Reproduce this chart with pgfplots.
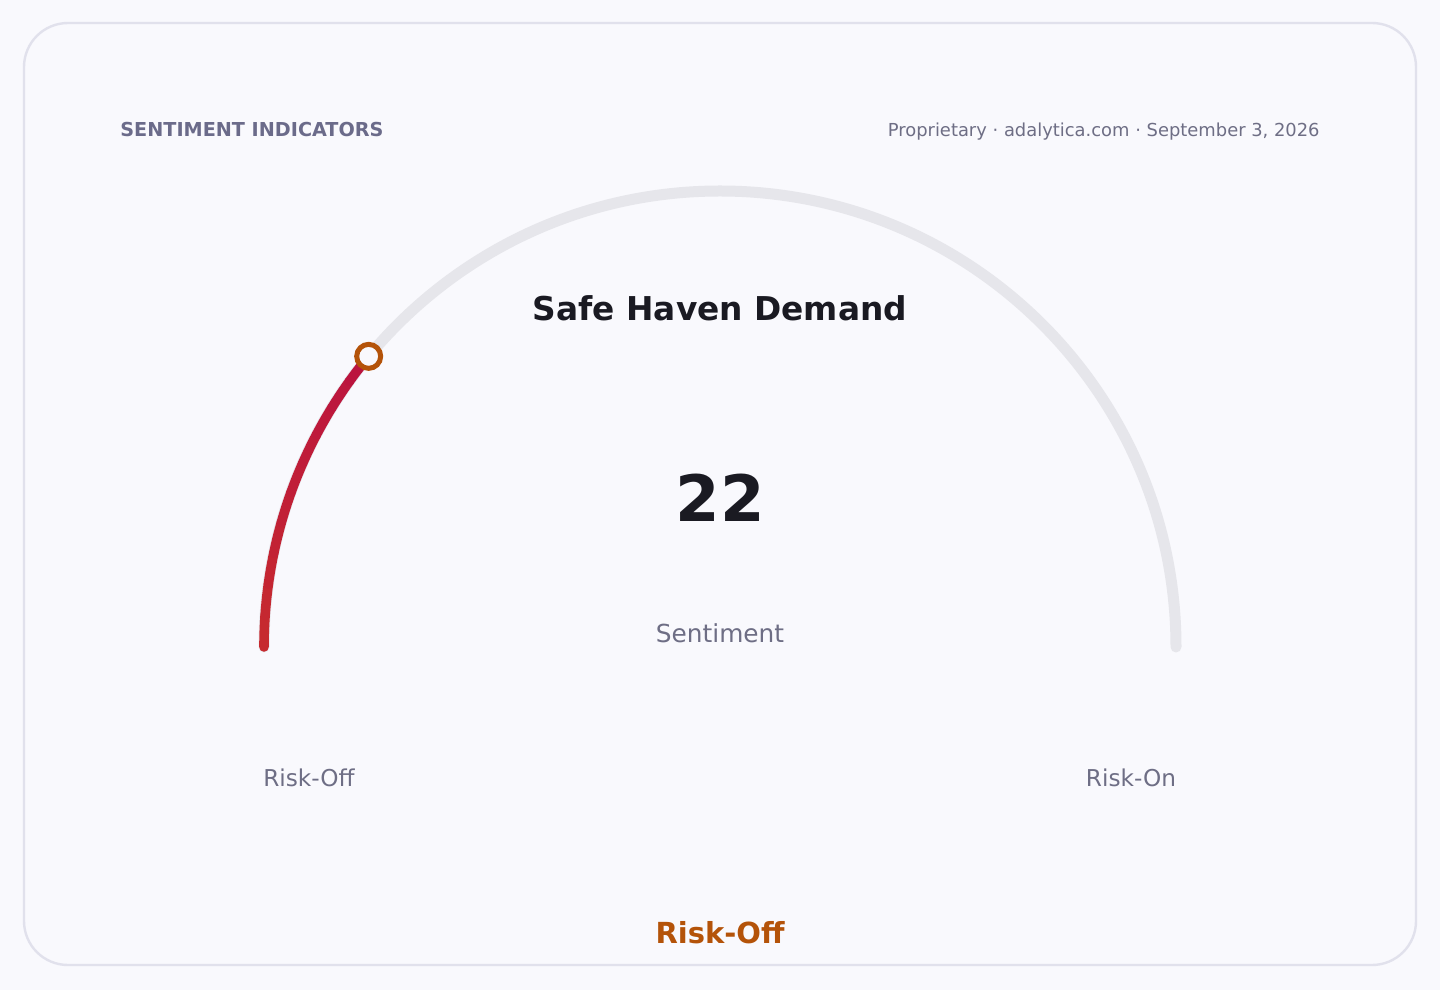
\documentclass[border=0pt]{standalone}
\usepackage{fontspec}
\setmainfont{DejaVu Sans}
\usepackage{xcolor}
\usepackage{pgfplots}
\usepackage{pgfplotstable}
\pgfplotsset{compat=1.18}
\usetikzlibrary{calc}

\definecolor{bgcol}{HTML}{F9F9FD}
\definecolor{cardedge}{HTML}{E1E1EC}
\definecolor{trackcol}{HTML}{E6E6EB}
\definecolor{lowcol}{HTML}{BA1240}
\definecolor{highcol}{HTML}{C62A2F}
\definecolor{ringcol}{HTML}{B45309}
\definecolor{headcol}{HTML}{6B6B8A}
\definecolor{subcol}{HTML}{6E6E85}
\definecolor{inkcol}{HTML}{1A1A22}

% gauge reading (0..100) and gauge radius in px
\pgfplotstableread{
value radius
22 456
}\gaugedata
\pgfplotstablegetelem{0}{value}\of\gaugedata
\pgfmathsetmacro\gaugeang{180-1.8*\pgfplotsretval}

\pgfplotsset{pixelaxis/.style={
    scale only axis,
    width=720pt, height=495pt,
    xmin=0, xmax=1440, ymin=0, ymax=990,
    y dir=reverse,
    hide axis, clip=false,
}}

\begin{document}
\begin{tikzpicture}[every node/.style={inner sep=0pt}]
\begin{axis}[pixelaxis]
  \fill[bgcol] (axis cs:0,0) rectangle (axis cs:1440,990);
  \draw[cardedge, line width=1.2pt, rounded corners=22pt]
    (axis cs:24,23) rectangle (axis cs:1416,965);
  \coordinate (C) at (axis cs:720,647);

  \node[anchor=base west, headcol, font=\fontsize{9.6}{11}\selectfont\bfseries]
    at (axis cs:120,137) {SENTIMENT INDICATORS};
  \node[anchor=base east, subcol, font=\fontsize{8.95}{11}\selectfont]
    at (axis cs:1320,137) {Proprietary · adalytica.com · September 3, 2026};
  \node[anchor=base, inkcol, font=\fontsize{16.4}{20}\selectfont\bfseries]
    at (axis cs:720,320) {Safe Haven Demand};
  \node[anchor=base, inkcol, font=\fontsize{32}{40}\selectfont\bfseries]
    at (axis cs:720,521) {22};
  \node[anchor=base, subcol, font=\fontsize{12.4}{15}\selectfont]
    at (axis cs:720,642) {Sentiment};
  \node[anchor=base, subcol, font=\fontsize{11.6}{15}\selectfont]
    at (axis cs:309,786) {Risk-Off};
  \node[anchor=base, subcol, font=\fontsize{11.6}{15}\selectfont]
    at (axis cs:1131,786) {Risk-On};
  \node[anchor=base, ringcol, font=\fontsize{14.5}{18}\selectfont\bfseries]
    at (axis cs:720,943) {Risk-Off};
\end{axis}

% track and value arc (radius 456 px = 228 pt)
\draw[trackcol, line width=5.5pt, line cap=round]
  ([xshift=-228pt]C) arc[start angle=180, end angle=0, radius=228pt];
\foreach \k in {0,...,9}{
  \pgfmathsetmacro\aa{180-(180-\gaugeang)*\k/10}
  \pgfmathsetmacro\ab{180-(180-\gaugeang)*(\k+1)/10}
  \pgfmathtruncatemacro\pc{100-\k*10}
  \draw[highcol!\pc!lowcol, line width=4.8pt, line cap=round]
    ($(C)+(\aa:228pt)$) arc[start angle=\aa, end angle=\ab, radius=228pt];
}

\begin{axis}[pixelaxis]
  \addplot[only marks, mark=*, mark size=6pt,
           mark options={draw=ringcol, fill=bgcol, line width=2.5pt}]
    table[x expr={720+\thisrow{radius}*cos(180-1.8*\thisrow{value})},
          y expr={647-\thisrow{radius}*sin(180-1.8*\thisrow{value})}] {\gaugedata};
\end{axis}
\end{tikzpicture}
\end{document}
